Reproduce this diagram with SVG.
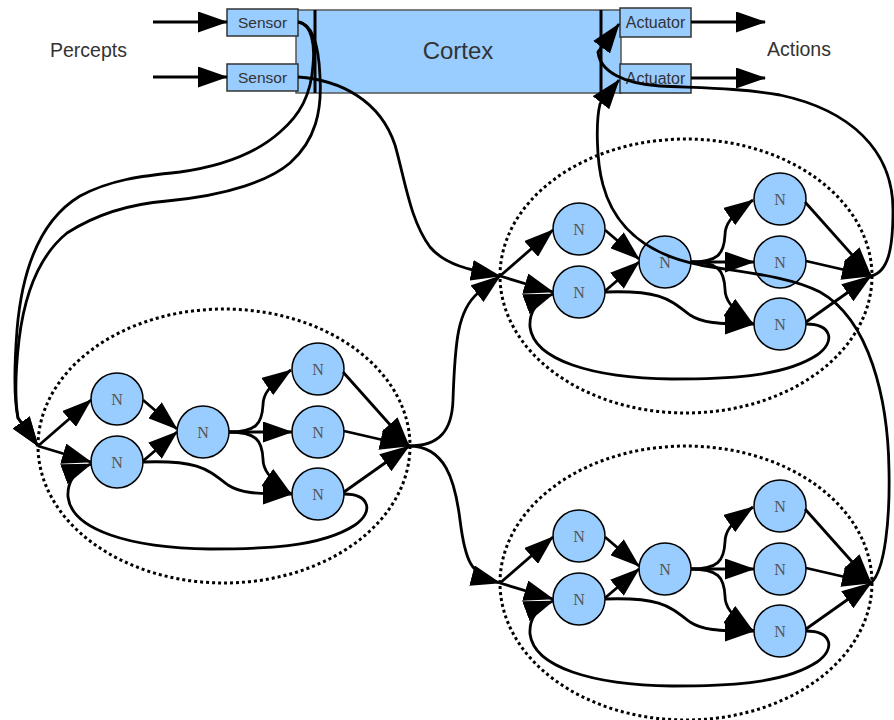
<svg xmlns="http://www.w3.org/2000/svg" width="894" height="720" viewBox="0 0 894 720">
<defs>
<marker id="ah" markerUnits="userSpaceOnUse" markerWidth="30" markerHeight="21" viewBox="0 0 30 21" refX="29" refY="10.5" orient="auto">
<path d="M0,0 L30,10.5 L0,21 z" fill="#000"/>
</marker>
<style>
.box{fill:#99ccff;stroke:#333;stroke-width:1.5}
.cortex{fill:#99ccff;stroke:#555;stroke-width:1.5}
.bar{stroke:#000;stroke-width:3}
.node circle{fill:#99ccff;stroke:#000;stroke-width:1.5}
.node text{font-family:"Liberation Serif","DejaVu Serif",serif;font-size:16px;fill:#555;text-anchor:middle}
.lbl{font-family:"Liberation Sans",Arial,sans-serif;fill:#333}
.cl{fill:none;stroke:#000;stroke-width:3;stroke-dasharray:3 3}
.e{fill:none;stroke:#000;stroke-width:2.8;marker-end:url(#ah)}
</style>
</defs>
<rect width="894" height="720" fill="#fff"/>

<g id="cortex">
<rect class="cortex" x="296" y="10" width="325" height="83"/>
<line class="bar" x1="315" y1="10" x2="315" y2="93"/>
<line class="bar" x1="601" y1="10" x2="601" y2="93"/>
<text class="lbl" x="458" y="59" font-size="24" text-anchor="middle">Cortex</text>
</g>
<g id="sensor1"><rect class="box" x="227" y="9" width="71" height="27"/><text class="lbl" x="262.5" y="28" font-size="15.5" text-anchor="middle">Sensor</text></g>
<g id="sensor2"><rect class="box" x="227" y="64" width="71" height="27"/><text class="lbl" x="262.5" y="83" font-size="15.5" text-anchor="middle">Sensor</text></g>
<g id="actuator1"><rect class="box" x="620" y="8" width="71" height="29"/><text class="lbl" x="655.5" y="28" font-size="16" text-anchor="middle">Actuator</text></g>
<g id="actuator2"><rect class="box" x="620" y="64" width="71" height="29"/><text class="lbl" x="655.5" y="84" font-size="16" text-anchor="middle">Actuator</text></g>
<text id="percepts" class="lbl" x="50" y="57" font-size="19.5">Percepts</text>
<text id="actions" class="lbl" x="767" y="56" font-size="19.5">Actions</text>

<g id="clusterL">
<ellipse class="cl" cx="224" cy="446" rx="186" ry="137"/>
<g id="L-A1" class="node"><circle cx="117" cy="399" r="26"/><text x="117" y="405">N</text></g>
<g id="L-A2" class="node"><circle cx="117" cy="462" r="26"/><text x="117" y="468">N</text></g>
<g id="L-B" class="node"><circle cx="203" cy="432" r="26"/><text x="203" y="438">N</text></g>
<g id="L-C1" class="node"><circle cx="318" cy="369" r="26"/><text x="318" y="375">N</text></g>
<g id="L-C2" class="node"><circle cx="318" cy="432" r="26"/><text x="318" y="438">N</text></g>
<g id="L-C3" class="node"><circle cx="318" cy="494" r="26"/><text x="318" y="500">N</text></g>
</g>
<g id="clusterTR" transform="translate(462,-170)">
<ellipse class="cl" cx="224" cy="446" rx="186" ry="137"/>
<g id="TR-A1" class="node"><circle cx="117" cy="399" r="26"/><text x="117" y="405">N</text></g>
<g id="TR-A2" class="node"><circle cx="117" cy="462" r="26"/><text x="117" y="468">N</text></g>
<g id="TR-B" class="node"><circle cx="203" cy="432" r="26"/><text x="203" y="438">N</text></g>
<g id="TR-C1" class="node"><circle cx="318" cy="369" r="26"/><text x="318" y="375">N</text></g>
<g id="TR-C2" class="node"><circle cx="318" cy="432" r="26"/><text x="318" y="438">N</text></g>
<g id="TR-C3" class="node"><circle cx="318" cy="494" r="26"/><text x="318" y="500">N</text></g>
</g>
<g id="clusterBR" transform="translate(462,137)">
<ellipse class="cl" cx="224" cy="446" rx="186" ry="137"/>
<g id="BR-A1" class="node"><circle cx="117" cy="399" r="26"/><text x="117" y="405">N</text></g>
<g id="BR-A2" class="node"><circle cx="117" cy="462" r="26"/><text x="117" y="468">N</text></g>
<g id="BR-B" class="node"><circle cx="203" cy="432" r="26"/><text x="203" y="438">N</text></g>
<g id="BR-C1" class="node"><circle cx="318" cy="369" r="26"/><text x="318" y="375">N</text></g>
<g id="BR-C2" class="node"><circle cx="318" cy="432" r="26"/><text x="318" y="438">N</text></g>
<g id="BR-C3" class="node"><circle cx="318" cy="494" r="26"/><text x="318" y="500">N</text></g>
</g>

<g id="connectors">
<path class="e" d="M153,22 L227,22"/>
<path class="e" d="M153,77 L227,77"/>
<path class="e" d="M691,22 L765,22"/>
<path class="e" d="M691,78 L765,78"/>

<g id="edges-L">
<path class="e" d="M38,446 L91,400"/>
<path class="e" d="M38,446 L91,462"/>
<path class="e" d="M143,400 L177,429"/>
<path class="e" d="M143,461 L177,432"/>
<path class="e" d="M229,432 C256,432 262,424 263,405 C263,395 268,386 291,370"/>
<path class="e" d="M229,432 L292,432"/>
<path class="e" d="M229,432 C256,432 262,440 263,459 C263,469 268,478 291,494"/>
<path class="e" d="M143,462 C200,460 208,470 228,485 C240,493 255,494 292,494"/>
<path class="e" d="M343,372 L409,446"/>
<path class="e" d="M344,431 L409,446"/>
<path class="e" d="M344,492 L409,446"/>
<path class="e" d="M344,494 C370,494 374,512 355,525 C320,548 260,549 210,549 C130,548 72,530 68,497 C67,482 75,470 91,464"/>
</g>
<g id="edges-TR" transform="translate(462,-170)">
<path class="e" d="M38,446 L91,400"/>
<path class="e" d="M38,446 L91,462"/>
<path class="e" d="M143,400 L177,429"/>
<path class="e" d="M143,461 L177,432"/>
<path class="e" d="M229,432 C256,432 262,424 263,405 C263,395 268,386 291,370"/>
<path class="e" d="M229,432 L292,432"/>
<path class="e" d="M229,432 C256,432 262,440 263,459 C263,469 268,478 291,494"/>
<path class="e" d="M143,462 C200,460 208,470 228,485 C240,493 255,494 292,494"/>
<path class="e" d="M343,372 L409,446"/>
<path class="e" d="M344,431 L409,446"/>
<path class="e" d="M344,492 L409,446"/>
<path class="e" d="M344,494 C370,494 374,512 355,525 C320,548 260,549 210,549 C130,548 72,530 68,497 C67,482 75,470 91,464"/>
</g>
<g id="edges-BR" transform="translate(462,137)">
<path class="e" d="M38,446 L91,400"/>
<path class="e" d="M38,446 L91,462"/>
<path class="e" d="M143,400 L177,429"/>
<path class="e" d="M143,461 L177,432"/>
<path class="e" d="M229,432 C256,432 262,424 263,405 C263,395 268,386 291,370"/>
<path class="e" d="M229,432 L292,432"/>
<path class="e" d="M229,432 C256,432 262,440 263,459 C263,469 268,478 291,494"/>
<path class="e" d="M143,462 C200,460 208,470 228,485 C240,493 255,494 292,494"/>
<path class="e" d="M343,372 L409,446"/>
<path class="e" d="M344,431 L409,446"/>
<path class="e" d="M344,492 L409,446"/>
<path class="e" d="M344,494 C370,494 374,512 355,525 C320,548 260,549 210,549 C130,548 72,530 68,497 C67,482 75,470 91,464"/>
</g>

<g id="edges-global">
<path class="e" d="M298,22 C312,24 315,45 313,65 C311,95 300,115 280,132 C260,150 230,165 180,172 C140,176 110,180 80,196 C40,220 22,270 17,330 C14,370 14,400 18,418 L38,446"/>
<path class="e" d="M298,22 C314,24 319,50 320,77 C322,110 316,140 290,163 C270,180 230,195 167,201 C130,204 95,215 67,233 C40,255 25,290 19,340 C15,375 15,400 18,418 L38,446"/>
<path class="e" d="M298,77 C340,80 380,100 395,145 C405,180 410,220 430,247 C445,265 470,270 500,276"/>
<path class="e" d="M409,446 C440,446 452,430 453,400 C455,340 458,310 478,293 L500,276"/>
<path class="e" d="M409,446 C445,446 455,480 460,520 C465,560 470,575 500,583"/>
<path class="e" d="M871,276 C888,272 893,250 893,210 C893,150 850,110 780,95 C740,88 700,88 660,86 C625,84 600,72 598,52 L619,24"/>
<path class="e" d="M871,583 C885,570 890,520 889,470 C888,400 870,320 820,292 C790,276 740,272 700,265 C650,255 615,230 603,185 C596,160 596,120 600,104 L619,80"/>
</g>
</g>
</svg>
